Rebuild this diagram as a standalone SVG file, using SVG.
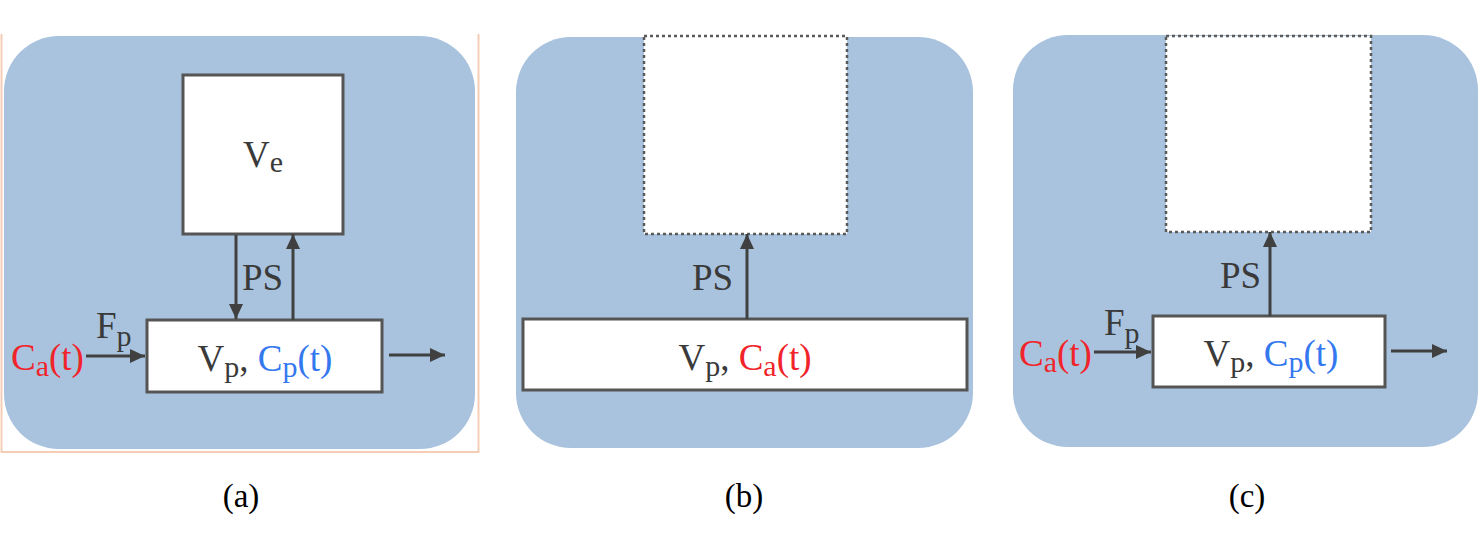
<svg xmlns="http://www.w3.org/2000/svg" width="1482" height="534" viewBox="0 0 1482 534">
<style>
.bg{fill:#a9c3de}
.box{fill:#fff;stroke:#555;stroke-width:3}
.dot{fill:#fff;stroke:#5a5a5a;stroke-width:2.5;stroke-dasharray:3 3}
.t{font-family:"Liberation Serif",serif;font-size:37px;fill:#3a3a3a}
.r{fill:#f0242a}
.b{fill:#3478f0}
.sub{font-size:30px}
.cap{font-family:"Liberation Serif",serif;font-size:33px;fill:#000;text-anchor:middle}
.ln{stroke:#404040;stroke-width:3;fill:none;marker-end:url(#ah)}
</style>
<defs>
<marker id="ah" markerUnits="userSpaceOnUse" markerWidth="15" markerHeight="14" refX="15" refY="7" orient="auto">
<path d="M0,0 L15,7 L0,14 z" fill="#404040"/>
</marker>
</defs>
<rect width="1482" height="534" fill="#fff"/>
<g id="frame-a">
<path d="M1.5,34 V452 H478.5 V34" fill="none" stroke="#f5cdb5" stroke-width="2"/>
</g>
<g id="panel-a-bg"><rect class="bg" x="4" y="36" width="471" height="413" rx="55"/></g>
<g id="panel-b-bg"><rect class="bg" x="516" y="37" width="457" height="411" rx="55"/></g>
<g id="panel-c-bg"><rect class="bg" x="1013" y="35" width="465" height="412" rx="55"/></g>

<g id="a-ve">
<rect class="box" x="183" y="75" width="160" height="159"/>
<text class="t" x="263" y="167" text-anchor="middle">V<tspan class="sub" dy="5">e</tspan></text>
</g>
<g id="a-vp">
<rect class="box" x="147" y="320" width="235" height="72"/>
<text class="t" x="265" y="371" text-anchor="middle">V<tspan class="sub" dy="6">p</tspan><tspan dy="-6">, </tspan><tspan class="b">C<tspan class="sub" dy="6">p</tspan><tspan dy="-6">(t)</tspan></tspan></text>
</g>
<g id="a-labels">
<text class="t r" x="11" y="370">C<tspan class="sub" dy="6">a</tspan><tspan dy="-6">(t)</tspan></text>
<text class="t" x="96" y="338">F<tspan class="sub" dy="8">p</tspan></text>
<text class="t" x="242" y="290">PS</text>
</g>

<g id="b-top"><rect class="dot" x="644" y="36" width="203" height="198"/></g>
<g id="b-vp">
<rect class="box" x="523" y="319" width="444" height="71"/>
<text class="t" x="745" y="370" text-anchor="middle">V<tspan class="sub" dy="6">p</tspan><tspan dy="-6">, </tspan><tspan class="r">C<tspan class="sub" dy="6">a</tspan><tspan dy="-6">(t)</tspan></tspan></text>
</g>
<g id="b-labels"><text class="t" x="692" y="290">PS</text></g>

<g id="c-top"><rect class="dot" x="1166" y="36" width="205" height="196"/></g>
<g id="c-vp">
<rect class="box" x="1153" y="316" width="232" height="71"/>
<text class="t" x="1271" y="366" text-anchor="middle">V<tspan class="sub" dy="6">p</tspan><tspan dy="-6">, </tspan><tspan class="b">C<tspan class="sub" dy="6">p</tspan><tspan dy="-6">(t)</tspan></tspan></text>
</g>
<g id="c-labels">
<text class="t r" x="1019" y="366">C<tspan class="sub" dy="6">a</tspan><tspan dy="-6">(t)</tspan></text>
<text class="t" x="1104" y="335">F<tspan class="sub" dy="8">p</tspan></text>
<text class="t" x="1220" y="288">PS</text>
</g>

<g id="connectors">
<line class="ln" x1="236" y1="235" x2="236" y2="319"/>
<line class="ln" x1="293" y1="320" x2="293" y2="234"/>
<line class="ln" x1="86" y1="356" x2="145" y2="356"/>
<line class="ln" x1="389" y1="355" x2="445" y2="355"/>
<line class="ln" x1="747" y1="319" x2="747" y2="234"/>
<line class="ln" x1="1270" y1="316" x2="1270" y2="232"/>
<line class="ln" x1="1094" y1="352" x2="1151" y2="352"/>
<line class="ln" x1="1391" y1="351" x2="1447" y2="351"/>
</g>

<g id="captions">
<text class="cap" x="241" y="507">(a)</text>
<text class="cap" x="744" y="507">(b)</text>
<text class="cap" x="1247" y="507">(c)</text>
</g>
</svg>
